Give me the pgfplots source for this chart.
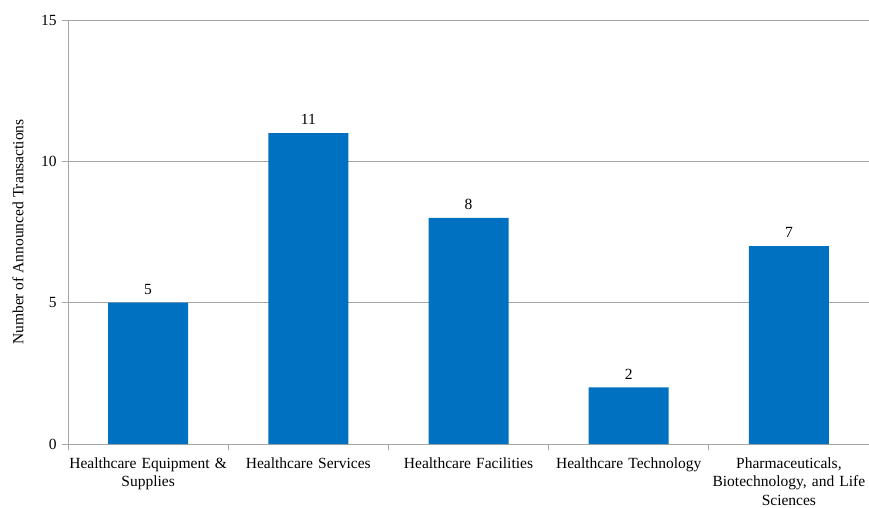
\documentclass[border=0pt]{standalone}
\usepackage{pgfplots}
\pgfplotsset{compat=1.18}
\usepackage{fontspec}
\setmainfont{Liberation Serif}
\definecolor{barblue}{HTML}{0070C0}
\definecolor{gridgray}{HTML}{A6A6A6}
\begin{document}
\fontsize{15.5}{19}\selectfont
\begin{tikzpicture}
\begin{axis}[
  scale only axis,
  width=801pt, height=424pt,
  xmin=-0.5, xmax=4.5,
  ymin=0, ymax=15,
  ytick={0,5,10,15},
  xtick={-0.5,0.5,1.5,2.5,3.5,4.5},
  x tick label as interval,
  xticklabels={{Healthcare Equipment \&\\Supplies},{Healthcare Services},{Healthcare Facilities},{Healthcare Technology},{Pharmaceuticals,\\Biotechnology, and Life\\Sciences}},
  x tick label style={align=center, text width=175pt, font=\fontsize{15.5}{18.5}\selectfont, anchor=north, yshift=-2pt},
  y tick label style={font=\fontsize{15.5}{18}\selectfont},
  /pgf/number format/assume math mode=true,
  tick style={gridgray, line width=0.8pt},
  tick align=outside,
  major tick length=6pt,
  axis x line*=bottom,
  axis y line*=left,
  axis line style={gridgray, line width=0.8pt, -},
  ymajorgrids,
  grid style={gridgray, line width=0.8pt},
  ylabel={Number of Announced Transactions},
  ylabel style={font=\fontsize{15.5}{18}\selectfont, at={(axis description cs:-0.0624,0.5)}, anchor=center},
  ybar, bar width=80pt,
  nodes near coords,
  nodes near coords style={font=\fontsize{15.5}{18}\selectfont, yshift=3pt, black},
  enlarge x limits=false,
]
\addplot[fill=barblue, draw=none] coordinates {(0,5) (1,11) (2,8) (3,2) (4,7)};
\end{axis}
\pgfresetboundingbox
\path (current axis.south west) ++(-68pt,-64pt) rectangle ++(869pt,508pt);
\end{tikzpicture}
\end{document}
